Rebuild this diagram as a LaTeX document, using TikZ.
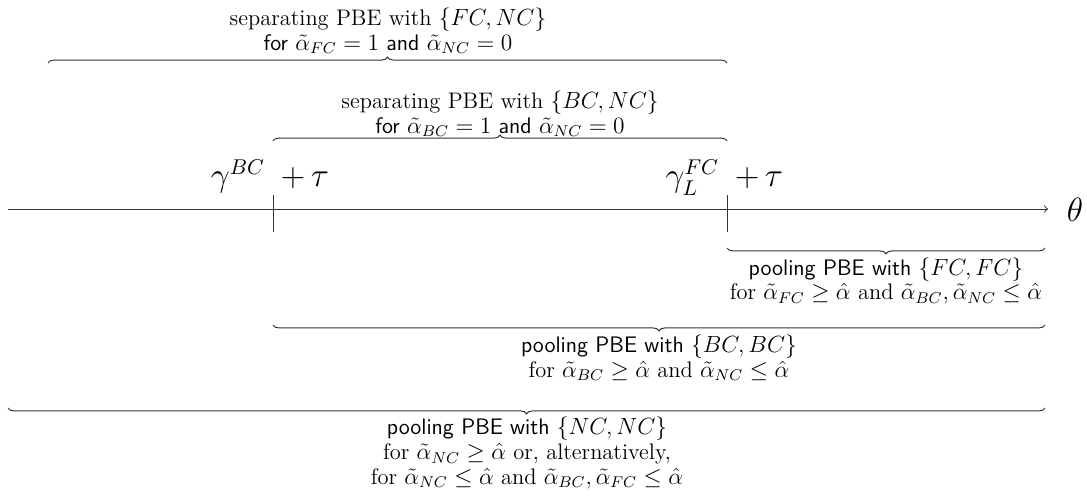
\documentclass[tikz,border=0pt]{standalone}
\usepackage{amsmath}
\usepackage{amssymb}
\usepackage{tikz}
\usetikzlibrary{decorations.pathreplacing}

\begin{document}
\begin{tikzpicture}[x=0.018cm,y=-0.018cm,line width=0.5pt,
        every node/.style={font=\fontsize{11.5}{12.6}\selectfont},
        etiq/.style={font=\fontsize{16}{18}\selectfont}]
            \useasboundingbox (0,0) rectangle (1087,496);

            % Eje
            \coordinate (ini) at (8,209);
            \coordinate (fin) at (1048,209);
            \draw[->,black!80] (ini) -- (fin);
            \node[etiq] (theta) at (1075,210) {$\theta$};

            % Marcas
            \coordinate (bc) at (273,209);
            \coordinate (fc) at (727,209);
            \draw[black!80] (273,195) -- (273,232);
            \draw[black!80] (727,195) -- (727,232);
            \node[etiq,anchor=base east] (gbc) at (272,187) {$\gamma^{BC}$};
            \node[etiq,anchor=base west] (tbc) at (274,187) {$+\,\tau$};
            \node[etiq,anchor=base east] (gfc) at (726,187) {$\gamma^{FC}_{L}$};
            \node[etiq,anchor=base west] (tfc) at (728,187) {$+\,\tau$};

            % Corchetes arriba
            \draw[black!80,decorate,decoration={brace,amplitude=3pt}] (48,63) -- (727,63);
            \node[align=center] (sepfc) at (388,31) {separating PBE with $\{FC,NC\}$\\
                \textsf{for} $\tilde{\alpha}_{FC}=1$ \textsf{and} $\tilde{\alpha}_{NC}=0$};

            \draw[black!80,decorate,decoration={brace,amplitude=3pt}] (273,141) -- (727,141);
            \node[align=center] (sepbc) at (500,114) {separating PBE with $\{BC,NC\}$\\
                \textsf{for} $\tilde{\alpha}_{BC}=1$ \textsf{and} $\tilde{\alpha}_{NC}=0$};

            % Corchetes abajo
            \draw[black!80,decorate,decoration={brace,amplitude=3pt,mirror}] (727,248) -- (1045,248);
            \node[align=center] (poolfc) at (886,281) {\textsf{pooling PBE with} $\{FC,FC\}$\\
                for $\tilde{\alpha}_{FC}\geq\hat{\alpha}$ and $\tilde{\alpha}_{BC},\tilde{\alpha}_{NC}\leq\hat{\alpha}$};

            \draw[black!80,decorate,decoration={brace,amplitude=3pt,mirror}] (273,325) -- (1045,325);
            \node[align=center] (poolbc) at (659,358) {\textsf{pooling PBE with} $\{BC,BC\}$\\
                for $\tilde{\alpha}_{BC}\geq\hat{\alpha}$ and $\tilde{\alpha}_{NC}\leq\hat{\alpha}$};

            \draw[black!80,decorate,decoration={brace,amplitude=3pt,mirror}] (8,408) -- (1045,408);
            \node[align=center] (poolnc) at (527,453) {\textsf{pooling PBE with} $\{NC,NC\}$\\
                for $\tilde{\alpha}_{NC}\geq\hat{\alpha}$ or, alternatively,\\
                for $\tilde{\alpha}_{NC}\leq\hat{\alpha}$ and $\tilde{\alpha}_{BC},\tilde{\alpha}_{FC}\leq\hat{\alpha}$};
        \end{tikzpicture}
\end{document}
